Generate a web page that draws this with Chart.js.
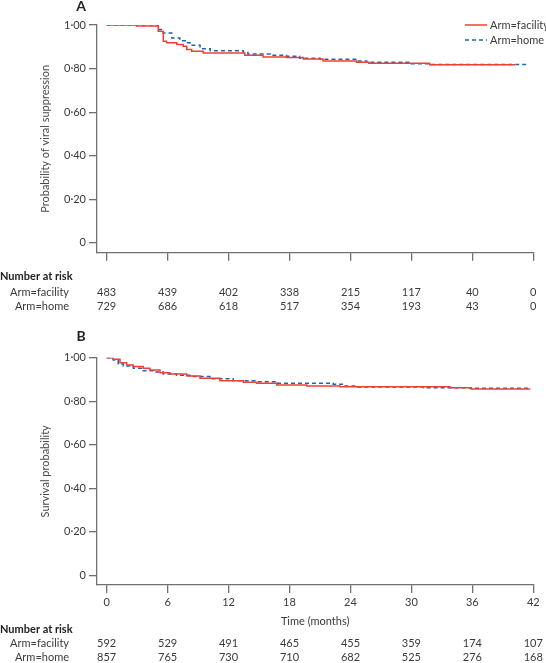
<!DOCTYPE html>
<html>
<head>
<meta charset="utf-8">
<script src="https://cdn.jsdelivr.net/npm/chart.js@4.4.1/dist/chart.umd.min.js"></script>
<style>
  body { margin: 0; background: #fff; }
  canvas { position: absolute; left: 0; }
  #chartA { top: 0; }
  #chartB { top: 320px; }
</style>
</head>
<body>
<canvas id="chartA" width="546" height="320"></canvas>
<canvas id="chartB" width="546" height="343"></canvas>
<script>
// time axis ticks (months) and number-at-risk tables
const months = [0, 6, 12, 18, 24, 30, 36, 42];
const yTicks = [0, 0.2, 0.4, 0.6, 0.8, 1];
const riskAFacility = [483, 439, 402, 338, 215, 117, 40, 0];
const riskAHome = [729, 686, 618, 517, 354, 193, 43, 0];
const riskBFacility = [592, 529, 491, 465, 455, 359, 174, 107];
const riskBHome = [857, 765, 730, 710, 682, 525, 276, 168];

// panel A: probability of viral suppression
const tAFacility = [0, 2.95, 5.08, 5.57, 5.9, 6.9, 7.54, 7.88, 8.37, 9.51, 13.6, 15.4, 17.7, 19.36, 21.3, 24.6, 25.8, 31.8, 40.2];
const sAFacility = [1, 0.995, 0.971, 0.925, 0.918, 0.910, 0.902, 0.887, 0.879, 0.872, 0.861, 0.853, 0.851, 0.844, 0.835, 0.829, 0.825, 0.817, 0.817];
const tAHome = [0, 5.08, 5.57, 6.4, 7.2, 7.88, 8.2, 9.2, 10.2, 13.45, 13.9, 16.1, 17.7, 19.0, 21.0, 24.6, 25.6, 30.0, 31.8, 41.5];
const sAHome = [1, 0.979, 0.963, 0.940, 0.928, 0.918, 0.907, 0.891, 0.882, 0.875, 0.867, 0.861, 0.857, 0.847, 0.843, 0.835, 0.829, 0.822, 0.819, 0.819];

// panel B: survival probability
const tBFacility = [0, 0.65, 1.31, 1.97, 2.62, 3.6, 4.26, 5.25, 6.23, 7.88, 9.19, 11.15, 13.45, 14.77, 16.74, 19.7, 22.97, 33.8, 35.9, 41.7];
const sBFacility = [1, 0.993, 0.977, 0.966, 0.959, 0.951, 0.943, 0.931, 0.925, 0.916, 0.905, 0.894, 0.887, 0.882, 0.875, 0.870, 0.867, 0.862, 0.856, 0.856];
const tBHome = [0, 0.65, 1.14, 1.63, 2.62, 3.6, 4.59, 5.57, 6.89, 8.2, 10.17, 12.46, 14.77, 16.74, 22.3, 23.3, 24.6, 31.2, 35.8, 41.7];
const sBHome = [1, 0.989, 0.971, 0.962, 0.951, 0.940, 0.934, 0.925, 0.919, 0.913, 0.903, 0.894, 0.890, 0.882, 0.878, 0.870, 0.865, 0.862, 0.859, 0.859];

const RED = '#ee4136';
const BLUE = '#2166ac';
const AXIS = '#707070';
const TEXT = '#3a3a3a';
const FONT = 'Lato, "Liberation Sans", sans-serif';

const toPoints = (t, s) => t.map((x, i) => ({ x: x, y: s[i] }));

function fmtProb(v) {
  return v === 0 ? '0' : v.toFixed(2).replace('.', '\u00b7');
}

// draws panel letter, legend and the number-at-risk table
function extrasPlugin(opts) {
  return {
    id: 'extras',
    afterDraw(chart) {
      const ctx = chart.ctx;
      const x = chart.scales.x;
      ctx.save();
      ctx.textBaseline = 'middle';
      ctx.fillStyle = '#222';
      ctx.font = 'bold 14px ' + FONT;
      ctx.textAlign = 'center';
      ctx.fillText(opts.letter, 81, opts.letterY);

      ctx.font = 'bold 11px ' + FONT;
      ctx.textAlign = 'left';
      ctx.fillText('Number at risk', 0, opts.rows[0]);
      ctx.font = '11px ' + FONT;
      ctx.fillStyle = TEXT;
      ctx.textAlign = 'right';
      ctx.fillText('Arm=facility', 69, opts.rows[1]);
      ctx.fillText('Arm=home', 69, opts.rows[2]);
      ctx.textAlign = 'center';
      months.forEach((m, i) => {
        const px = x.getPixelForValue(m);
        ctx.fillText(String(opts.facility[i]), px, opts.rows[1]);
        ctx.fillText(String(opts.home[i]), px, opts.rows[2]);
      });

      if (opts.legend) {
        ctx.lineWidth = 1.5;
        ctx.strokeStyle = RED;
        ctx.beginPath(); ctx.moveTo(465, 25); ctx.lineTo(487, 25); ctx.stroke();
        ctx.strokeStyle = BLUE;
        ctx.setLineDash([4, 3]);
        ctx.beginPath(); ctx.moveTo(465, 40); ctx.lineTo(487, 40); ctx.stroke();
        ctx.setLineDash([]);
        ctx.textAlign = 'left';
        ctx.fillText('Arm=facility', 490, 25);
        ctx.fillText('Arm=home', 490, 40);
      }
      ctx.restore();
    }
  };
}

function makeChart(id, cfg) {
  return new Chart(document.getElementById(id), {
    type: 'line',
    data: {
      datasets: [
        { label: 'Arm=facility', data: toPoints(cfg.tf, cfg.sf), borderColor: RED, borderWidth: 1.5, stepped: true, pointRadius: 0, fill: false },
        { label: 'Arm=home', data: toPoints(cfg.th, cfg.sh), borderColor: BLUE, borderWidth: 1.5, borderDash: [4, 3], stepped: true, pointRadius: 0, fill: false }
      ]
    },
    options: {
      responsive: false,
      animation: false,
      layout: { padding: { top: cfg.top, right: 12.7, left: 0, bottom: 0 } },
      plugins: { legend: { display: false }, tooltip: { enabled: false } },
      scales: {
        x: {
          type: 'linear',
          min: -0.95,
          max: 42,
          afterBuildTicks: s => { s.ticks = months.map(v => ({ value: v })); },
          afterFit: s => { s.height = cfg.xHeight; },
          grid: { drawOnChartArea: false, drawTicks: true, tickLength: 8, color: AXIS, lineWidth: 1.3 },
          border: { color: AXIS, width: 1.3 },
          ticks: { display: cfg.showX, padding: 3, color: TEXT, font: { family: FONT, size: 11 } },
          title: { display: cfg.showX, text: 'Time (months)', color: TEXT, font: { family: FONT, size: 11 }, padding: { bottom: 35.4, top: 0 } }
        },
        y: {
          min: -0.045,
          max: 1,
          afterBuildTicks: s => { s.ticks = yTicks.map(v => ({ value: v })); },
          afterFit: s => { s.width = 97; },
          grid: { drawOnChartArea: false, drawTicks: true, tickLength: 8, color: AXIS, lineWidth: 1.3 },
          border: { color: AXIS, width: 1.3 },
          ticks: { padding: 3, color: TEXT, font: { family: FONT, size: 11 }, callback: v => fmtProb(v) },
          title: { display: true, text: cfg.yTitle, color: '#4a4a4a', font: { family: FONT, size: 11 }, padding: { top: 39, bottom: 0 } }
        }
      }
    },
    plugins: [extrasPlugin(cfg.extras)]
  });
}

makeChart('chartA', {
  tf: tAFacility, sf: sAFacility, th: tAHome, sh: sAHome,
  top: 25, xHeight: 67.3, showX: false,
  yTitle: 'Probability of viral suppression',
  extras: { letter: 'A', letterY: 6, rows: [276.7, 292, 306], facility: riskAFacility, home: riskAHome, legend: true }
});

makeChart('chartB', {
  tf: tBFacility, sf: sBFacility, th: tBHome, sh: sBHome,
  top: 37.7, xHeight: 78, showX: true,
  yTitle: 'Survival probability',
  extras: { letter: 'B', letterY: 16, rows: [309, 323.7, 337.7], facility: riskBFacility, home: riskBHome, legend: false }
});
</script>
</body>
</html>
